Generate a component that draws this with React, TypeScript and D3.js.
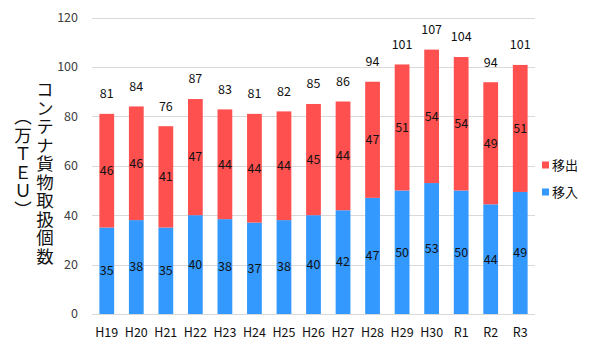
import React, { useEffect, useRef } from "react";
import * as d3 from "d3";

// 年度
const categories = ["H19", "H20", "H21", "H22", "H23", "H24", "H25", "H26", "H27", "H28", "H29", "H30", "R1", "R2", "R3"];
// 移入 (万TEU)
const inbound = [35, 38, 35, 40, 38.4, 37, 38, 40, 42, 47, 50, 53, 50, 44.4, 49.4];
// 移出 (万TEU)
const outbound = [46, 46, 41, 47, 44.4, 44, 44, 45, 44, 47, 51, 54, 54, 49.4, 51.4];
// 合計ラベル
const totals = [81, 84, 76, 87, 83, 81, 82, 85, 86, 94, 101, 107, 104, 94, 101];
const yTicks = [0, 20, 40, 60, 80, 100, 120];

const RED = "#FF5050";
const BLUE = "#3399FF";
const FONT = "'Noto Sans CJK JP', 'Noto Sans', sans-serif";

export default function App() {
  const ref = useRef<SVGSVGElement>(null);

  useEffect(() => {
    const svg = d3.select(ref.current);
    svg.selectAll("*").remove();

    const x = d3.scaleBand().domain(categories).range([92, 535]).paddingInner(0.5).paddingOuter(0.25);
    const y = d3.scaleLinear().domain([0, 120]).range([314, 17.5]);

    // grid
    svg.append("g")
      .selectAll("line")
      .data(yTicks)
      .enter()
      .append("line")
      .attr("x1", 92)
      .attr("x2", 535)
      .attr("y1", (d) => Math.round(y(d)) + 0.5)
      .attr("y2", (d) => Math.round(y(d)) + 0.5)
      .attr("stroke", "#d9d9d9");

    // y tick labels
    svg.append("g")
      .selectAll("text")
      .data(yTicks)
      .enter()
      .append("text")
      .attr("x", 78)
      .attr("y", (d) => y(d))
      .attr("dy", "0.35em")
      .attr("text-anchor", "end")
      .attr("font-size", 12.5)
      .attr("fill", "#404040")
      .text((d) => d);

    const rows = categories.map((c, i) => ({ c, inb: inbound[i], out: outbound[i], total: totals[i] }));

    // bars
    const g = svg.append("g");
    g.selectAll("rect.in")
      .data(rows)
      .enter()
      .append("rect")
      .attr("x", (d) => x(d.c)!)
      .attr("width", x.bandwidth())
      .attr("y", (d) => y(d.inb))
      .attr("height", (d) => y(0) - y(d.inb))
      .attr("fill", BLUE);
    g.selectAll("rect.out")
      .data(rows)
      .enter()
      .append("rect")
      .attr("x", (d) => x(d.c)!)
      .attr("width", x.bandwidth())
      .attr("y", (d) => y(d.inb + d.out))
      .attr("height", (d) => y(d.inb) - y(d.inb + d.out))
      .attr("fill", RED);

    // segment labels
    const cx = (d: { c: string }) => x(d.c)! + x.bandwidth() / 2;
    g.selectAll("text.in")
      .data(rows)
      .enter()
      .append("text")
      .attr("x", cx)
      .attr("y", (d) => y(d.inb / 2))
      .attr("dy", "0.35em")
      .attr("text-anchor", "middle")
      .attr("font-size", 12.5)
      .attr("fill", "#111")
      .text((d) => Math.round(d.inb));
    g.selectAll("text.out")
      .data(rows)
      .enter()
      .append("text")
      .attr("x", cx)
      .attr("y", (d) => y(d.inb + d.out / 2))
      .attr("dy", "0.35em")
      .attr("text-anchor", "middle")
      .attr("font-size", 12.5)
      .attr("fill", "#111")
      .text((d) => Math.round(d.out));
    g.selectAll("text.total")
      .data(rows)
      .enter()
      .append("text")
      .attr("x", cx)
      .attr("y", (d) => y(d.inb + d.out) - 20)
      .attr("dy", "0.35em")
      .attr("text-anchor", "middle")
      .attr("font-size", 12.5)
      .attr("fill", "#111")
      .text((d) => d.total);

    // x axis
    svg.append("line")
      .attr("x1", 92).attr("x2", 535)
      .attr("y1", 314.5).attr("y2", 314.5)
      .attr("stroke", "#d9d9d9");
    svg.append("g")
      .selectAll("text")
      .data(categories)
      .enter()
      .append("text")
      .attr("x", (d) => x(d)! + x.bandwidth() / 2)
      .attr("y", 333)
      .attr("dy", "0.35em")
      .attr("text-anchor", "middle")
      .attr("font-size", 12.5)
      .attr("fill", "#111")
      .text((d) => d);

    // y axis title (vertical)
    svg.append("text")
      .attr("x", 45)
      .attr("y", 81)
      .style("writing-mode", "vertical-rl")
      .attr("font-size", 17.5)
      .attr("letter-spacing", 1)
      .attr("fill", "#111")
      .text("コンテナ貨物取扱個数");
    svg.append("text")
      .attr("x", 23)
      .attr("y", 108)
      .style("writing-mode", "vertical-rl")
      .attr("font-size", 17.5)
      .attr("letter-spacing", 1)
      .attr("fill", "#111")
      .text("（万ＴＥＵ）");

    // legend
    const legend = [
      { name: "移出", color: RED, y: 165 },
      { name: "移入", color: BLUE, y: 192 },
    ];
    const lg = svg.append("g");
    lg.selectAll("rect")
      .data(legend)
      .enter()
      .append("rect")
      .attr("x", 542)
      .attr("y", (d) => d.y - 3.5)
      .attr("width", 7)
      .attr("height", 7)
      .attr("fill", (d) => d.color);
    lg.selectAll("text")
      .data(legend)
      .enter()
      .append("text")
      .attr("x", 552)
      .attr("y", (d) => d.y)
      .attr("dy", "0.35em")
      .attr("font-size", 13)
      .attr("fill", "#111")
      .text((d) => d.name);
  }, []);

  return (
    <svg
      ref={ref}
      width={601}
      height={359}
      style={{ position: "absolute", left: 0, top: 0, fontFamily: FONT, background: "#fff" }}
    />
  );
}
